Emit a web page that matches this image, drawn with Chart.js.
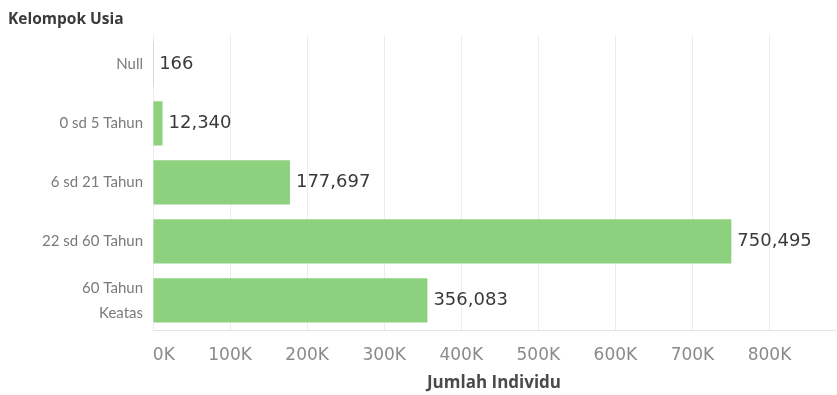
<!DOCTYPE html>
<html>
<head>
<meta charset="utf-8">
<script src="https://cdn.jsdelivr.net/npm/chart.js@4/dist/chart.umd.min.js"></script>
<style>
  body { margin: 0; background: #fff; }
  #wrap { width: 837px; height: 395px; }
</style>
</head>
<body>
<div id="wrap"><canvas id="chart"></canvas></div>
<script>
// data
var kelompok = ['Null', '0 sd 5 Tahun', '6 sd 21 Tahun', '22 sd 60 Tahun', ['60 Tahun', 'Keatas']];
var jumlah = [166, 12340, 177697, 750495, 356083];
var xTicks = [0, 100000, 200000, 300000, 400000, 500000, 600000, 700000, 800000];

var textFont = '"Open Sans", Lato, sans-serif';
var labelFont = 'Lato, "Open Sans", sans-serif';
var numFont = '"DejaVu Sans", sans-serif';

// value labels at the end of each bar
var barLabels = {
    id: 'barLabels',
    afterDatasetsDraw: function (chart) {
        var ctx = chart.ctx;
        var meta = chart.getDatasetMeta(0);
        ctx.save();
        ctx.font = '18px ' + numFont;
        ctx.fillStyle = '#3a3a3a';
        ctx.textAlign = 'left';
        ctx.textBaseline = 'middle';
        meta.data.forEach(function (bar, i) {
            ctx.fillText(jumlah[i].toLocaleString('en-US'), bar.x + 6, bar.y);
        });
        ctx.restore();
    }
};

new Chart(document.getElementById('chart'), {
    type: 'bar',
    data: {
        labels: kelompok,
        datasets: [{
            data: jumlah,
            backgroundColor: '#8dd17e',
            borderWidth: 0,
            barPercentage: 0.75,
            categoryPercentage: 1
        }]
    },
    options: {
        indexAxis: 'y',
        responsive: true,
        maintainAspectRatio: false,
        devicePixelRatio: 1,
        animation: false,
        layout: { padding: { top: 4, left: 8, right: 2, bottom: 2 } },
        plugins: {
            legend: { display: false },
            tooltip: { enabled: false },
            title: {
                display: true,
                text: 'Kelompok Usia',
                align: 'start',
                color: '#3a3a3a',
                font: { family: textFont, size: 15.5, weight: 'bold' },
                padding: { top: 4, bottom: 6 }
            }
        },
        scales: {
            x: {
                min: 0,
                max: 885000,
                afterBuildTicks: function (scale) {
                    scale.ticks = xTicks.map(function (v) { return { value: v }; });
                },
                afterFit: function (scale) { scale.height = 63; },
                grid: { color: '#ececec', drawTicks: false },
                border: { display: true, color: '#e4e4e4' },
                ticks: {
                    color: '#8a8a8a',
                    padding: 15,
                    font: { family: numFont, size: 17 },
                    callback: function (v) {
                        return v === 0 ? '\u2007\u20070K' : (v / 1000) + 'K';
                    }
                },
                title: {
                    display: true,
                    text: 'Jumlah Individu',
                    color: '#4a4a4a',
                    font: { family: textFont, size: 17, weight: 'bold' },
                    padding: { top: 0, bottom: 0 }
                }
            },
            y: {
                grid: { display: false, drawTicks: false },
                border: { display: false },
                afterFit: function (scale) { scale.width = 145; },
                ticks: {
                    color: '#7a7a7a',
                    padding: 10,
                    font: { family: labelFont, size: 15, lineHeight: 1.65 }
                }
            }
        }
    },
    plugins: [barLabels]
});
</script>
</body>
</html>
